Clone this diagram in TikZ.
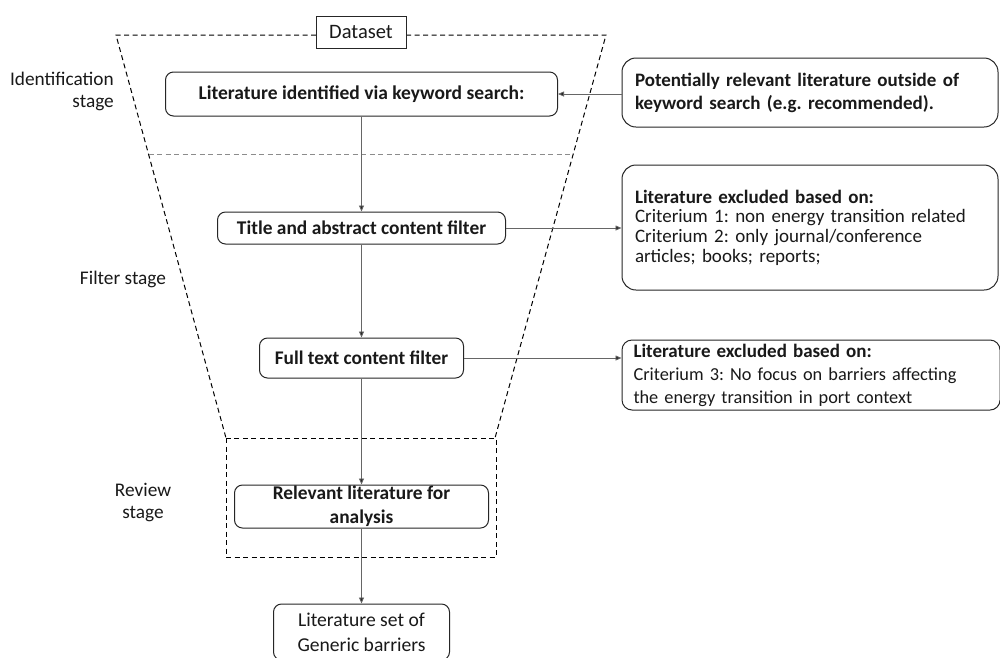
\documentclass[tikz,border=0pt]{standalone}
\usepackage{fontspec}
\setmainfont{Carlito}
\usetikzlibrary{arrows.meta}
\frenchspacing
\begin{document}
\begin{tikzpicture}[x=1pt,y=-1pt,
  box/.style={draw=black!85, rounded corners=8pt, line width=1pt, text=black!90,
    font=\fontsize{19.4}{22}\selectfont, inner sep=0pt, align=center},
  sidebox/.style={box, rounded corners=14pt, align=left},
  arr/.style={draw=black!60, line width=0.8pt, -{Triangle[length=6pt,width=5pt,fill=black!85]}},
  dline/.style={dash pattern=on 5pt off 3.5pt, line width=1pt, draw=black},
  gline/.style={dash pattern=on 5pt off 3.5pt, line width=1pt, draw=black!45},
  lbl/.style={font=\fontsize{19.3}{22}\selectfont, text=black!90, inner sep=0pt}]
\clip (0,0) rectangle (1000,657);
\fill[white] (0,0) rectangle (1000,657);

% funnel and review region
\draw[dline] (316,35) -- (116,35) -- (226,438);
\draw[dline] (406,35) -- (606,35) -- (495,438);
\draw[dline] (226,438) rectangle (496,557);
\draw[gline] (148.5,154) -- (573,154);

% nodes
\node[box, rounded corners=0pt, fill=white, minimum width=90pt, minimum height=32pt, font=\fontsize{20.5}{22}\selectfont] (data) at (361,32) {Dataset};
\node[box, minimum width=392pt, minimum height=44pt, font=\fontsize{19.5}{22}\selectfont\bfseries] (lit) at (361.5,94) {Literature identified via keyword search:};
\node[sidebox, minimum width=376pt, minimum height=69pt, text width=350pt, font=\fontsize{19}{23}\selectfont\bfseries] (pot) at (810,92.5) {Potentially relevant literature outside of\\keyword search (e.g. recommended).};
\node[box, minimum width=288pt, minimum height=32pt, font=\fontsize{19.4}{22}\selectfont\bfseries] (title) at (361.5,228) {Title and abstract content filter};
\node[sidebox, minimum width=376pt, minimum height=125pt, text width=350pt, font=\fontsize{19}{19.7}\selectfont] (crit1) at (810,227.5) {{\bfseries Literature excluded based on:}\\Criterium 1: non energy transition related\\Criterium 2: only journal/conference\\articles; books; reports;};
\node[box, minimum width=204pt, minimum height=40pt, font=\fontsize{19.3}{22}\selectfont\bfseries] (full) at (361.5,358) {Full text content filter};
\node[sidebox, rounded corners=10pt, minimum width=378pt, minimum height=70pt, text width=355pt, font=\fontsize{18.3}{23}\selectfont] (crit2) at (811,375) {{\fontsize{19}{23}\selectfont\bfseries Literature excluded based on:}\\Criterium 3: No focus on barriers affecting\\the energy transition in port context};
\node[box, minimum width=254pt, minimum height=43pt, font=\fontsize{19.4}{24}\selectfont\bfseries] (rel) at (361.5,506.5) {Relevant literature for\\analysis};
\node[box, minimum width=176pt, minimum height=56pt, font=\fontsize{19.6}{25}\selectfont] (gen) at (361.5,632) {Literature set of\\Generic barriers};

% stage labels
\node[lbl, anchor=east, align=right] (lid) at (114,91) {Identification\\stage};
\node[lbl] (lfil) at (123,279) {Filter stage};
\node[lbl, align=center] (lrev) at (143,503) {Review\\stage};

% connectors
\draw[arr] (pot.west |- lit.east) -- (lit.east);
\draw[arr] (lit.south) -- (title.north);
\draw[arr] (title.east) -- (title.east -| crit1.west);
\draw[arr] (title.south) -- (full.north);
\draw[arr] (full.east) -- (full.east -| crit2.west);
\draw[arr] (full.south) -- (rel.north);
\draw[arr] (rel.south) -- (gen.north);
\end{tikzpicture}
\end{document}
